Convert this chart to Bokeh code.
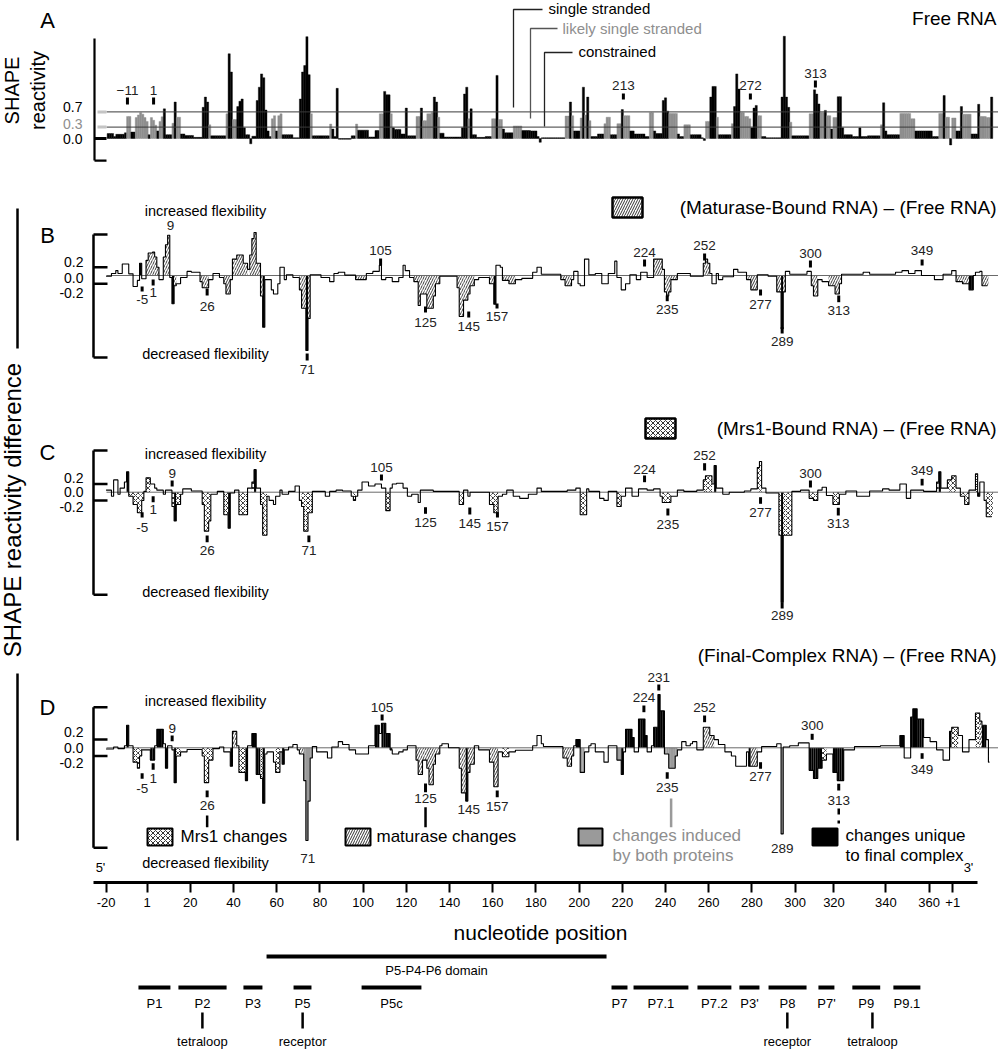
import numpy as np
from bokeh.plotting import figure
from bokeh.models import Range1d, FixedTicker
from bokeh.layouts import column
from bokeh.embed import file_html
from bokeh.resources import INLINE
from bokeh.core.properties import value

FONT = "Liberation Sans"

# ---------------------------------------------------------------- data
# Panel A: free RNA SHAPE reactivity, runs of (first nt, last nt, reactivity)
A_runs = [(-18,-16,0.13),(-15,-15,0.05),(-14,-11,0.11),(-10,-10,0.15),(-9,-8,0.58),(-7,-6,0.17),
 (-5,-5,0.55),(-4,-4,0.62),(-3,-3,0.68),(-2,-2,0.64),(-1,-1,0.55),(0,0,0.45),(1,1,0.1),(2,2,0.55),
 (3,3,0.48),(4,4,0.35),(5,5,0.2),(6,6,0.45),(7,7,0.57),(8,8,0.78),(9,11,0.1),(12,12,0.4),(13,13,0.96),
 (14,15,0.56),(16,17,0.12),(18,21,0.08),(22,25,0.03),(26,26,0.82),(27,27,1.09),(28,28,0.96),(29,29,0.36),
 (30,36,0.07),(37,37,0.65),(38,38,2.23),(39,39,1.75),(40,41,0.5),(42,42,0.84),(43,43,0.98),(44,44,1.04),
 (45,45,0.28),(46,47,0.1),(48,48,-0.14),(49,50,0.06),(51,51,1.0),(52,52,1.35),(53,53,1.7),(54,54,1.6),
 (55,55,0.75),(56,56,0.2),(57,57,0.05),(58,58,0.52),(59,59,0.6),(60,60,0.2),(61,61,0.6),(62,62,0.65),
 (63,67,0.1),(68,70,0.02),(71,71,1.04),(72,72,1.75),(73,73,1.92),(74,74,2.68),(75,75,1.68),(76,76,0.65),
 (77,84,0.07),(85,85,0.38),(86,86,0.25),(87,87,0.05),(88,88,1.32),(89,94,-0.02),(95,96,0.07),(97,97,0.38),
 (98,102,0.22),(103,105,0.04),(106,107,0.21),(108,109,0.65),(110,110,1.24),(111,112,1.15),(113,113,0.65),
 (114,114,0.28),(115,117,0.24),(118,119,0.12),(120,120,0.8),(121,124,0.07),(125,126,0.58),(127,127,0.8),
 (128,129,0.47),(130,131,0.65),(132,132,0.68),(133,133,1.09),(134,134,0.96),(135,135,0.56),(136,137,0.14),
 (138,145,0.04),(146,146,0.28),(147,147,1.17),(148,148,1.35),(149,149,0.52),(150,150,0.78),(151,152,0.1),
 (153,156,0.03),(157,159,0.05),(160,161,0.52),(162,162,1.66),(163,164,0.5),(165,165,0.25),(166,169,0.15),
 (170,173,0.33),(174,177,0.21),(178,180,0.2),(181,181,0.05),(182,182,-0.1),(183,193,0.02),(194,195,0.59),
 (196,196,0.96),(197,197,0.6),(198,200,0.2),(201,201,0.54),(202,202,1.35),(203,203,0.62),(204,204,1.09),
 (205,205,0.47),(206,208,0.05),(209,211,0.12),(212,212,0.39),(213,214,0.56),(215,217,0.1),(218,219,0.39),
 (220,220,0.76),(221,223,0.6),(224,225,0.2),(226,230,0.12),(231,232,0.05),(233,234,0.68),(235,235,0.2),
 (236,238,0.13),(239,239,1.0),(240,240,1.07),(241,241,0.72),(242,245,0.66),(246,246,0.12),(247,248,0.05),
 (249,251,0.36),(252,256,0.1),(257,257,0.02),(258,258,-0.05),(259,260,0.45),(261,261,1.09),(262,263,1.37),
 (264,264,0.56),(265,270,0.1),(271,271,0.39),(272,272,0.84),(273,273,1.7),(274,274,1.3),(275,276,0.68),
 (277,278,0.58),(279,279,0.52),(280,280,0.28),(281,281,0.8),(282,282,0.87),(283,284,0.6),(285,286,0.05),
 (287,293,0.02),(294,294,1.09),(295,295,2.69),(296,296,1.09),(297,297,0.82),(298,298,0.43),(299,306,0.07),
 (307,308,0.65),(309,309,1.28),(310,310,1.17),(311,311,0.91),(312,313,0.68),(314,314,0.74),(315,316,0.6),
 (317,317,0.25),(318,319,0.55),(320,321,1.1),(322,322,0.28),(323,326,0.1),(327,329,0.05),(330,330,0.28),
 (331,333,0.05),(334,339,0.07),(340,340,0.36),(341,341,0.94),(342,342,0.2),(343,348,0.1),(349,353,0.66),
 (354,355,0.52),(356,363,0.2),(364,366,0.05),(367,368,0.66),(369,369,1.13),(370,371,0.56),(372,372,-0.17),
 (373,374,0.54),(375,376,0.2),(377,377,0.84),(378,381,0.64),(382,384,0.12),(385,385,0.9),(386,388,0.58),
 (389,390,0.55),(391,391,1.09)]

# Panels B-D: reactivity difference runs (first nt, last nt, difference, class)
# class: w = no change, m = maturase, x = Mrs1, g = both proteins, k = unique / solid
B_runs = [(-19,-17,-0.02,'w'),(-16,-15,0.05,'w'),(-14,-14,0.12,'w'),(-13,-12,0.05,'w'),(-11,-9,0.28,'w'),
 (-8,-7,0.04,'w'),(-6,-5,-0.27,'w'),(-4,-4,-0.12,'w'),(-3,-3,0.3,'k'),(-2,-1,-0.08,'w'),(0,0,0.37,'m'),
 (1,2,0.55,'m'),(3,3,0.57,'m'),(4,4,0.45,'m'),(5,5,0.2,'m'),(6,7,-0.1,'w'),(8,8,0.45,'m'),(9,9,0.75,'m'),
 (10,10,0.98,'m'),(11,11,-0.05,'w'),(12,12,-0.69,'k'),(13,13,-0.25,'m'),(14,15,-0.2,'w'),(16,18,-0.05,'w'),
 (19,20,0.1,'w'),(21,24,0.08,'w'),(25,25,-0.15,'m'),(26,28,-0.3,'m'),(29,30,-0.1,'w'),(31,33,0.05,'w'),
 (34,35,-0.05,'w'),(36,36,-0.2,'m'),(37,38,-0.45,'m'),(39,39,-0.1,'w'),(40,41,0.4,'m'),(42,44,0.5,'m'),
 (45,46,0.3,'m'),(47,47,0.15,'w'),(48,48,0.5,'m'),(49,49,0.9,'m'),(50,50,1.05,'m'),(51,52,0.3,'m'),
 (53,53,-0.5,'m'),(54,54,-1.26,'k'),(55,57,-0.1,'w'),(58,58,-0.35,'w'),(59,60,-0.45,'w'),(61,61,-0.2,'w'),
 (62,63,0.2,'w'),(64,64,-0.1,'w'),(65,67,0.02,'w'),(68,70,-0.05,'w'),(71,71,-0.35,'m'),(72,73,-0.8,'m'),
 (74,74,-1.83,'k'),(75,75,-1.05,'m'),(76,80,0.02,'w'),(81,84,-0.05,'w'),(85,86,-0.15,'w'),(87,88,0.05,'w'),
 (89,91,0.08,'w'),(92,96,0.01,'w'),(97,101,-0.1,'m'),(102,104,0.05,'w'),(105,107,0.1,'w'),(108,108,0.25,'w'),
 (109,110,-0.1,'w'),(111,113,-0.05,'w'),(114,116,-0.15,'w'),(117,118,-0.05,'w'),(119,119,0.25,'w'),
 (120,121,0.12,'w'),(122,123,-0.05,'w'),(124,125,-0.15,'m'),(126,126,-0.73,'m'),(127,129,-0.45,'m'),
 (130,132,-0.8,'m'),(133,133,-0.5,'m'),(134,135,-0.2,'m'),(136,143,-0.02,'w'),(144,144,-0.3,'m'),
 (145,146,-1.0,'m'),(147,148,-0.6,'m'),(149,149,-0.45,'m'),(150,151,-0.25,'m'),(152,153,-0.1,'w'),
 (154,158,-0.05,'w'),(159,160,-0.2,'m'),(161,161,-0.7,'k'),(162,163,0.25,'w'),(164,164,0.2,'w'),
 (165,167,-0.12,'m'),(168,170,-0.2,'m'),(171,173,-0.1,'w'),(174,178,-0.07,'w'),(179,180,0.08,'w'),
 (181,182,0.2,'w'),(183,191,0.03,'w'),(192,193,-0.1,'m'),(194,196,-0.25,'m'),(197,197,-0.1,'w'),
 (198,199,0.1,'w'),(200,200,-0.2,'w'),(201,202,-0.25,'w'),(203,204,0.4,'w'),(205,207,0.02,'w'),
 (208,210,0.05,'w'),(211,213,-0.2,'w'),(214,216,0.05,'w'),(217,217,0.35,'w'),(218,219,-0.05,'w'),
 (220,221,-0.35,'w'),(222,223,-0.2,'w'),(224,226,0.02,'w'),(227,228,-0.1,'w'),(229,231,0.08,'w'),
 (232,234,-0.05,'w'),(235,238,0.4,'m'),(239,239,0.15,'w'),(240,240,-0.4,'m'),(241,241,-0.5,'m'),
 (242,242,-0.4,'m'),(243,245,-0.1,'m'),(246,251,0.05,'w'),(252,257,-0.02,'w'),(258,258,0.3,'m'),
 (259,259,0.4,'m'),(260,260,0.3,'m'),(261,261,0.05,'w'),(262,263,-0.2,'w'),(264,264,0.05,'w'),
 (265,266,-0.1,'w'),(267,271,-0.03,'w'),(272,273,0.15,'w'),(274,277,0.08,'w'),(278,279,-0.1,'m'),
 (280,282,-0.35,'m'),(283,287,0.02,'w'),(288,291,-0.02,'w'),(292,293,-0.4,'m'),(294,294,-1.3,'k'),
 (295,295,-0.4,'m'),(296,297,0.1,'w'),(298,305,0.03,'w'),(306,307,0.1,'w'),(308,308,-0.25,'m'),
 (309,310,-0.5,'m'),(311,312,-0.1,'w'),(313,315,-0.15,'w'),(316,318,-0.25,'m'),(319,320,-0.45,'m'),
 (321,321,-0.2,'m'),(322,331,0.03,'w'),(332,334,0.08,'w'),(335,346,0.03,'w'),(347,349,0.08,'w'),
 (350,352,0.12,'w'),(353,355,0.05,'w'),(356,358,0.12,'w'),(359,364,0.0,'w'),(365,368,-0.1,'w'),
 (369,372,0.03,'w'),(373,374,0.12,'w'),(375,377,-0.15,'m'),(378,380,-0.2,'m'),(381,382,-0.35,'k'),
 (383,383,0.0,'w'),(384,385,0.08,'w'),(386,386,0.1,'w'),(387,389,-0.25,'m')]

C_runs = [(-19,-17,0.05,'w'),(-16,-16,-0.1,'w'),(-15,-14,0.3,'w'),(-13,-13,-0.05,'w'),(-12,-11,0.1,'w'),
 (-10,-10,0.25,'w'),(-9,-9,0.5,'k'),(-8,-7,-0.1,'x'),(-6,-5,-0.3,'x'),(-4,-3,-0.5,'x'),(-2,-2,-0.2,'x'),
 (-1,-1,0.02,'w'),(0,1,0.35,'x'),(2,3,0.2,'w'),(4,4,0.1,'w'),(5,7,0.05,'w'),(8,8,-0.05,'w'),(9,11,0.05,'w'),
 (12,12,-0.35,'x'),(13,13,-0.7,'k'),(14,15,-0.3,'x'),(16,16,-0.05,'w'),(17,20,0.08,'w'),(21,25,0.03,'w'),
 (26,26,-0.3,'x'),(27,28,-0.95,'x'),(29,29,-0.7,'x'),(30,32,-0.05,'w'),(33,35,0.02,'w'),(36,37,-0.55,'x'),
 (38,38,-0.88,'k'),(39,40,-0.02,'w'),(41,42,0.05,'w'),(43,46,-0.55,'x'),(47,48,0.1,'w'),(49,49,0.25,'x'),
 (50,50,0.55,'k'),(51,52,0.1,'w'),(53,53,-0.3,'x'),(54,55,-1.05,'x'),(56,56,-0.1,'w'),(57,58,-0.2,'w'),
 (59,59,-0.3,'w'),(60,61,-0.1,'w'),(62,62,0.05,'w'),(63,65,-0.05,'w'),(66,68,0.02,'w'),(69,70,0.15,'w'),
 (71,71,-0.2,'w'),(72,72,-0.35,'x'),(73,74,-0.95,'x'),(75,76,-0.5,'x'),(77,82,0.02,'w'),(83,84,-0.1,'w'),
 (85,87,0.02,'w'),(88,90,0.05,'w'),(91,94,0.03,'w'),(95,95,-0.1,'w'),(96,96,-0.2,'x'),(97,97,-0.1,'w'),
 (98,99,0.05,'w'),(100,102,0.25,'w'),(103,105,0.15,'w'),(106,108,0.2,'w'),(109,110,0.1,'w'),
 (111,112,-0.45,'x'),(113,113,0.1,'w'),(114,115,0.2,'w'),(116,118,0.22,'w'),(119,120,0.1,'w'),
 (121,122,-0.1,'w'),(123,125,-0.05,'w'),(126,126,-0.25,'w'),(127,132,0.05,'w'),(133,144,0.02,'w'),
 (145,146,-0.3,'x'),(147,148,0.05,'w'),(149,149,-0.1,'w'),(150,158,0.0,'w'),(159,160,-0.3,'x'),
 (161,162,-0.5,'x'),(163,164,-0.1,'w'),(165,166,-0.05,'w'),(167,169,0.05,'w'),(170,172,-0.1,'w'),
 (173,176,-0.15,'w'),(177,180,-0.05,'w'),(181,182,0.1,'w'),(183,194,0.02,'w'),(195,198,0.05,'w'),
 (199,200,0.1,'w'),(201,203,-0.55,'x'),(204,204,0.08,'w'),(205,209,0.02,'w'),(210,211,-0.15,'w'),
 (212,213,-0.2,'w'),(214,217,0.02,'w'),(218,219,-0.35,'x'),(220,221,-0.1,'w'),(222,224,0.1,'w'),
 (225,227,-0.1,'w'),(228,231,0.08,'w'),(232,234,0.05,'w'),(235,237,0.08,'w'),(238,238,-0.1,'w'),
 (239,242,-0.25,'x'),(243,245,-0.1,'w'),(246,248,0.05,'w'),(249,254,0.02,'w'),(255,257,0.05,'w'),
 (258,258,0.3,'x'),(259,261,0.4,'x'),(262,262,0.2,'w'),(263,263,0.65,'k'),(264,266,0.1,'w'),
 (267,269,-0.05,'w'),(270,276,0.0,'w'),(277,279,0.03,'w'),(280,282,0.08,'w'),(283,283,0.6,'x'),
 (284,284,0.75,'x'),(285,286,0.1,'w'),(287,292,-0.02,'w'),(293,293,-1.05,'x'),(294,294,-2.68,'k'),
 (295,298,-1.05,'x'),(299,302,0.02,'w'),(303,306,0.05,'w'),(307,308,-0.15,'x'),(309,310,-0.2,'x'),
 (311,312,0.05,'w'),(313,314,0.12,'w'),(315,317,-0.08,'w'),(318,320,-0.3,'x'),(321,323,-0.05,'w'),
 (324,328,0.03,'w'),(329,334,-0.1,'w'),(335,340,0.03,'w'),(341,343,0.08,'w'),(344,348,0.05,'w'),
 (349,351,0.2,'w'),(352,353,-0.15,'w'),(354,359,0.05,'w'),(360,365,0.02,'w'),(366,366,0.25,'x'),
 (367,367,0.5,'k'),(368,370,0.1,'w'),(371,372,0.3,'x'),(373,374,0.4,'x'),(375,376,0.1,'w'),
 (377,378,-0.1,'x'),(379,380,-0.3,'x'),(381,383,0.05,'w'),(384,384,0.45,'x'),(385,385,-0.1,'k'),
 (386,387,0.25,'w'),(388,388,-0.2,'w'),(389,391,-0.6,'x')]

D_runs = [(-19,-16,-0.03,'w'),(-15,-14,0.02,'w'),(-13,-11,-0.02,'w'),(-10,-10,0.05,'w'),(-9,-9,0.55,'k'),
 (-8,-7,0.05,'w'),(-6,-5,-0.35,'x'),(-4,-4,-0.5,'x'),(-3,-3,-0.2,'x'),(-2,1,-0.05,'w'),(2,3,-0.3,'k'),
 (4,4,0.05,'w'),(5,7,0.45,'k'),(8,8,0.1,'w'),(9,9,-0.5,'k'),(10,11,0.05,'w'),(12,12,-0.05,'w'),
 (13,13,-0.85,'k'),(14,15,-0.2,'x'),(16,18,-0.1,'w'),(19,25,-0.04,'w'),(26,26,-0.2,'x'),(27,28,-0.85,'x'),
 (29,30,-0.3,'x'),(31,33,-0.02,'w'),(34,35,0.02,'w'),(36,38,-0.1,'w'),(39,39,-0.45,'k'),(40,41,0.4,'m'),
 (42,42,0.05,'w'),(43,45,-0.6,'x'),(46,46,-0.8,'k'),(47,48,0.05,'w'),(49,50,0.35,'k'),(51,52,-0.65,'k'),
 (53,53,-0.75,'x'),(54,54,-1.35,'k'),(55,55,-0.15,'w'),(56,58,-0.1,'w'),(59,59,-0.35,'w'),(60,61,-0.6,'x'),
 (62,62,-0.1,'w'),(63,63,-0.4,'k'),(64,65,-0.05,'w'),(66,67,0.02,'w'),(68,69,0.08,'w'),(70,70,-0.05,'w'),
 (71,72,-0.15,'m'),(73,73,-0.8,'g'),(74,74,-2.26,'g'),(75,75,-1.3,'g'),(76,76,-0.25,'g'),(77,78,0.03,'w'),
 (79,83,-0.1,'w'),(84,85,-0.25,'w'),(86,88,0.02,'w'),(89,90,0.15,'w'),(91,93,0.08,'w'),(94,96,-0.05,'w'),
 (97,102,-0.15,'w'),(103,105,0.05,'w'),(106,107,0.55,'k'),(108,108,0.35,'w'),(109,110,0.6,'k'),
 (111,112,0.35,'k'),(113,113,-0.05,'k'),(114,116,-0.15,'w'),(117,118,-0.1,'w'),(119,120,-0.05,'w'),
 (121,124,0.05,'w'),(125,125,-0.3,'m'),(126,127,-0.65,'m'),(128,129,-0.3,'m'),(130,130,-0.5,'m'),
 (131,132,-0.9,'m'),(133,133,-0.4,'m'),(134,135,-0.15,'m'),(136,136,0.05,'w'),(137,139,0.1,'w'),
 (140,144,0.0,'w'),(145,145,-0.5,'m'),(146,147,-1.1,'m'),(148,148,-1.3,'k'),(149,149,-0.6,'m'),
 (150,151,-0.4,'m'),(152,153,0.05,'w'),(154,158,-0.05,'w'),(159,160,-0.35,'m'),(161,162,-0.95,'m'),
 (163,164,-0.1,'w'),(165,167,-0.22,'x'),(168,170,-0.1,'w'),(171,178,-0.06,'w'),(179,180,0.05,'w'),
 (181,182,0.3,'w'),(183,183,0.1,'w'),(184,192,0.03,'w'),(193,194,-0.25,'m'),(195,196,-0.45,'m'),
 (197,197,-0.2,'m'),(198,198,0.05,'w'),(199,200,0.2,'k'),(201,202,-0.6,'g'),(203,204,-0.1,'w'),
 (205,205,0.05,'w'),(206,207,0.1,'w'),(208,211,-0.1,'w'),(212,213,-0.35,'w'),(214,217,0.05,'w'),
 (218,219,-0.3,'g'),(220,220,-0.65,'k'),(221,221,-0.1,'w'),(222,224,0.45,'k'),(225,225,0.25,'k'),
 (226,227,-0.1,'w'),(228,230,0.7,'k'),(231,231,0.3,'k'),(232,233,-0.1,'w'),(234,234,0.05,'w'),
 (235,236,0.5,'k'),(237,237,1.3,'k'),(238,239,0.9,'k'),(240,241,-0.15,'g'),(242,244,-0.5,'g'),
 (245,245,-0.2,'g'),(246,247,-0.05,'w'),(248,249,0.15,'w'),(250,251,0.05,'w'),(252,252,0.1,'w'),
 (253,254,0.15,'w'),(255,257,-0.05,'w'),(258,260,0.5,'m'),(261,262,0.3,'m'),(263,264,0.2,'w'),
 (265,267,0.08,'w'),(268,270,-0.1,'w'),(271,272,-0.2,'w'),(273,277,-0.45,'w'),(278,278,-0.1,'w'),
 (279,279,-0.45,'k'),(280,282,-0.45,'m'),(283,284,-0.1,'w'),(285,291,0.03,'w'),(292,293,0.1,'w'),
 (294,294,-2.1,'g'),(295,297,0.02,'w'),(298,301,0.05,'w'),(302,306,0.12,'w'),(307,308,-0.55,'k'),
 (309,310,-0.75,'k'),(311,312,-0.5,'k'),(313,314,-0.3,'x'),(315,317,-0.15,'w'),(318,319,-0.6,'k'),
 (320,322,-0.8,'k'),(323,327,-0.05,'w'),(328,339,0.03,'w'),(340,348,0.05,'w'),(349,350,0.3,'k'),
 (351,353,-0.25,'w'),(354,354,0.75,'k'),(355,356,0.95,'k'),(357,359,0.7,'k'),(360,362,0.25,'w'),
 (363,365,0.15,'w'),(366,368,-0.05,'w'),(369,371,-0.3,'w'),(372,372,0.4,'k'),(373,375,0.5,'x'),
 (376,377,0.3,'w'),(378,380,-0.1,'w'),(381,383,0.2,'w'),(384,385,0.85,'x'),(386,386,0.65,'m'),
 (387,388,0.55,'k'),(389,389,0.2,'w'),(390,390,-0.35,'w')]

# x-axis ticks (positions on the nucleotide scale, printed labels)
TICK_POS = [-19, 0, 20, 40, 60, 80, 100, 120, 140, 160, 180, 200, 220, 240, 260, 280, 300, 318, 342, 362, 373]
TICK_LABELS = ["-20", "1", "20", "40", "60", "80", "100", "120", "140", "160", "180", "200", "220",
               "240", "260", "280", "300", "320", "340", "360", "+1"]

# secondary-structure elements (name, first nt, last nt)
DOMAIN_NAMES = ["P1", "P2", "P3", "P5", "P5c", "P7", "P7.1", "P7.2", "P3'", "P8", "P7'", "P9", "P9.1"]
DOMAIN_START = [-4.0, 14.5, 44.6, 67.8, 99.3, 215.0, 225.2, 254.8, 274.2, 287.7, 310.8, 326.5, 345.5]
DOMAIN_END = [10.8, 36.8, 53.4, 76.1, 127.0, 222.4, 250.6, 270.5, 283.5, 305.3, 318.2, 339.4, 358.0]
P4P6_SPAN = (55.3, 212.7)
FEATURE_NAMES = ["tetraloop", "receptor", "receptor", "tetraloop"]
FEATURE_POS = [25.6, 72.0, 296.4, 335.8]

# annotated nucleotides: (label, x in nt, text y, tick y0, tick y1) -- y in layout px
A_LABELS = [("−11", -9.1, 82, 89, 96), ("1", 3.0, 82, 89, 96), ("213", 220.5, 77, 85, 91),
            ("272", 279.3, 77, 85, 91), ("313", 309.4, 65, 72, 79)]
B_LABELS = [("-5", -2.3, 291, 278, 283), ("1", 2.8, 283.7, 271, 277), ("9", 10.8, 217, None, None),
            ("26", 27.8, 298, 280, 287), ("71", 74.1, 361, 345, 352), ("105", 108.1, 242, 250, 257),
            ("125", 128.9, 313.7, 298, 304), ("145", 148.9, 317.7, 303, 309), ("157", 162.0, 308, 295, 300),
            ("224", 230.3, 243.7, 251, 258), ("235", 240.8, 301, 287, 292.7), ("252", 258.1, 237, 245, 252),
            ("277", 284.0, 296, 281, 287), ("289", 294.0, 333, 318.7, 325), ("300", 307.1, 244.7, 252, 259),
            ("313", 320.2, 302, 287, 293.7), ("349", 358.8, 242, 251, 257)]
C_LABELS = [("-5", -2.3, 519, 503.7, 509), ("1", 2.8, 501, 487.7, 493.7), ("9", 11.6, 464.7, 472, 478),
            ("26", 27.8, 542, 527, 533.7), ("71", 74.9, 542, 527, 533.7), ("105", 108.5, 458.7, 466, 472),
            ("125", 128.9, 514.3, 498.7, 505.3), ("145", 149.4, 515.3, 499, 506),
            ("157", 162.2, 518, 503.7, 509), ("224", 230.3, 461.3, 467, 473.7),
            ("235", 241.1, 516, 500, 507), ("252", 258.1, 447, 454.7, 462), ("277", 284.0, 503.7, 488.7, 495.3),
            ("289", 294.0, 607, 593.7, 600), ("300", 307.1, 464.7, 472, 479), ("313", 320.0, 515.3, 499.3, 507),
            ("349", 358.8, 462, 470.3, 477)]
D_LABELS = [("-5", -2.3, 780.3, 764.7, 770.3), ("1", 2.8, 770.3, 754.7, 761.3), ("9", 11.6, 720.3, 727, 732.7),
            ("26", 27.8, 797, 782, 788.7), ("71", 74.4, 850.3, None, None), ("105", 108.8, 698.7, 706, 712),
            ("125", 128.9, 790.3, 775, 783.7), ("145", 148.9, 801.3, None, None),
            ("157", 162.1, 798, 782, 788.7), ("224", 230.0, 689.3, 697, 703.7), ("231", 236.9, 668.7, 676, 682),
            ("252", 258.1, 699.3, 707, 713.7), ("235", 240.8, 778.7, 763.7, 770.3),
            ("277", 284.0, 768, 753.7, 760.3), ("289", 294.0, 840.3, None, None),
            ("300", 307.9, 717, 725.3, 731.3), ("313", 320.2, 792, 775.3, 782), ("349", 358.8, 761.3, 744.7, 750.3)]
D_LEADERS = [(27.8, 807, 818.7, "black", "solid"), (128.9, 798.7, 818.7, "black", "solid"),
             (242.6, 790, 818.7, "#9a9a9a", "solid"), (320.2, 800, 815, "black", "dashed")]


# ---------------------------------------------------------------- helpers
def nt(px):
    """page x (px) -> nucleotide coordinate of the shared x scale"""
    return 20 + (px - 189.8) / 2.16


def expand(runs):
    d = {}
    for r in runs:
        for n in range(r[0], r[1] + 1):
            d[n] = r[2:]
    lo, hi = min(d), max(d)
    pos = np.arange(lo, hi + 1)
    vals = np.array([d[n][0] if n in d else 0.0 for n in pos])
    cats = [d[n][1] if (n in d and len(d[n]) > 1) else 'w' for n in pos]
    return pos.astype(float), vals, cats


def txt(fig, x, y, s, size, color="black", align="left", font=FONT, angle=0.0, baseline="middle"):
    fig.text(x=[x], y=[y], text=[s], text_font=value(font), text_font_size=f"{size}px",
             text_color=color, text_align=align, text_baseline=baseline, angle=angle)


# ---------------------------------------------------------------- main figure
W = 998
FRAME_H = 882
X0, X1 = nt(0), nt(998)
xr = Range1d(X0, X1)

# layout y units: page px minus 8 (so frame top is -8, frame bottom is 874)
p = figure(width=W, height=FRAME_H + 36, x_range=xr, y_range=Range1d(FRAME_H - 8, -8),
           output_backend="svg", toolbar_location=None, y_axis_location=None,
           min_border_left=0, min_border_right=0, min_border_top=0, min_border_bottom=36)
p.grid.visible = False
p.outline_line_color = None

# panel baselines (layout px) and px per unit
PANELS = {"A": (130.0, 38.0), "B": (267.0, 41.0), "C": (483.7, 41.0), "D": (739.3, 41.0)}
p.extra_y_ranges = {k: Range1d((b - (FRAME_H - 8)) / s, (b + 8) / s) for k, (b, s) in PANELS.items()}

GRAY = "#8e8e8e"

# ---------- panel A
pa, va, _ = expand(A_runs)
colA = ["#8e8e8e" if 0.3 <= v < 0.7 else "black" for v in va]
p.vbar(x=pa, width=1.0, bottom=0, top=va, fill_color=colA, line_color=colA, line_width=0.4,
       y_range_name="A")
p.segment(x0=[nt(106)] * 2, x1=[X1] * 2, y0=[0.7, 0.3], y1=[0.7, 0.3], line_color="#3a3a3a",
          line_width=1, y_range_name="A")
axA = nt(94)
p.segment(x0=[axA], x1=[axA], y0=[2.63], y1=[-0.58], line_color="black", line_width=2.2, y_range_name="A")
p.segment(x0=[axA, axA, nt(97), nt(97)], x1=[nt(106)] * 4, y0=[-0.58, 0.0, 0.7, 0.3],
          y1=[-0.58, 0.0, 0.7, 0.3], line_color=["black", "black", "#c4c4c4", "#c4c4c4"],
          line_width=[2.2, 3, 3, 3], y_range_name="A")
p.text(x=[nt(82)] * 3, y=[98, 115, 130], text=["0.7", "0.3", "0.0"], text_align="right",
       text_baseline="middle", text_font=value(FONT), text_font_size="14px",
       text_color=["black", GRAY, "black"])
txt(p, nt(11), 82, "SHAPE", 20, align="center", angle=np.pi / 2)
txt(p, nt(37), 82, "reactivity", 20, align="center", angle=np.pi / 2)
txt(p, nt(47), 12, "A", 22, align="center")
txt(p, nt(996), 10, "Free RNA", 19, align="right")
# class legend of panel A
p.multi_line(xs=[[nt(513), nt(513), nt(542)], [nt(530), nt(530), nt(557)], [nt(544), nt(544), nt(572)]],
             ys=[[99, 1, 1], [110, 20, 20], [118, 44, 44]],
             line_color=["#222222", "#555555", "#222222"], line_width=1.3)
txt(p, nt(548), 0, "single stranded", 15)
txt(p, nt(562), 20, "likely single stranded", 15, color=GRAY)
txt(p, nt(578), 43, "constrained", 15)


def number_labels(labels):
    t = [l[0] for l in labels]
    x = [l[1] for l in labels]
    y = [l[2] for l in labels]
    p.text(x=x, y=y, text=t, text_align="center", text_baseline="middle", text_font=value(FONT),
           text_font_size="13.5px", text_color="#222222")
    tk = [l for l in labels if l[3] is not None]
    p.segment(x0=[l[1] for l in tk], x1=[l[1] for l in tk], y0=[l[3] for l in tk], y1=[l[4] for l in tk],
              line_color="black", line_width=3)


number_labels(A_LABELS)

# ---------- difference panels
FILL = {"m": "white", "x": "white", "g": "#9a9a9a", "k": "black"}
HATCH = {"m": "/", "x": "x", "g": " ", "k": " "}


def diff_panel(runs, name, letter, top, bot, lab_y, flex_y):
    base = PANELS[name][0]
    pos, vals, cats = expand(runs)
    idx = [i for i, c in enumerate(cats) if c != 'w']
    p.quad(left=pos[idx] - 0.5, right=pos[idx] + 0.5, bottom=np.minimum(vals[idx], 0),
           top=np.maximum(vals[idx], 0), fill_color=[FILL[cats[i]] for i in idx],
           hatch_pattern=[HATCH[cats[i]] for i in idx], hatch_color="black", hatch_scale=5,
           hatch_weight=0.8, line_color=None, y_range_name=name)
    p.segment(x0=[nt(106)], x1=[X1], y0=[0], y1=[0], line_color="#6a6a6a", line_width=1, y_range_name=name)
    p.step(x=pos, y=vals, mode="center", line_color="black", line_width=1.1, y_range_name=name)
    bx = nt(93)
    p.segment(x0=[bx], x1=[bx], y0=[top], y1=[bot], line_color="black", line_width=2.5, y_range_name=name)
    p.segment(x0=[bx] * 4, x1=[nt(107)] * 4, y0=[top, bot, 0.2, -0.2], y1=[top, bot, 0.2, -0.2],
              line_color="black", line_width=2.5, y_range_name=name)
    p.text(x=[nt(83)] * 3, y=lab_y, text=["0.2", "0.0", "-0.2"], text_align="right", text_baseline="middle",
           text_font=value(FONT), text_font_size="14px", text_color="black")
    txt(p, nt(47), base - 40, letter, 22, align="center")
    txt(p, nt(205), flex_y[0], "increased flexibility", 14.5, align="center")
    txt(p, nt(205), flex_y[1], "decreased flexibility", 14.5, align="center")


diff_panel(B_runs, "B", "B", 1.0, -2.0, [253, 269, 284], (202, 345))
diff_panel(C_runs, "C", "C", 1.02, -2.5, [469.3, 483.7, 498], (445, 583))
diff_panel(D_runs, "D", "D", 0.99, -2.44, [723.7, 739.3, 754.7], (692, 854))
number_labels(B_LABELS)
number_labels(C_LABELS)
number_labels(D_LABELS)

# titles and legend boxes
p.quad(left=[nt(612)], right=[nt(642)], top=[189], bottom=[209], fill_color="white", hatch_pattern="/",
       hatch_color="black", hatch_scale=5, hatch_weight=0.8, line_color="black", line_width=2.5)
txt(p, nt(996), 199, "(Maturase-Bound RNA) – (Free RNA)", 19, align="right")
p.quad(left=[nt(645)], right=[nt(675)], top=[410], bottom=[430], fill_color="white", hatch_pattern="x",
       hatch_color="black", hatch_scale=5, hatch_weight=0.8, line_color="black", line_width=2.5)
txt(p, nt(996), 420, "(Mrs1-Bound RNA) – (Free RNA)", 19, align="right")
txt(p, nt(996), 647, "(Final-Complex RNA) – (Free RNA)", 19, align="right")

# panel D legend
p.quad(left=[nt(147), nt(345), nt(578), nt(812)], right=[nt(172), nt(370), nt(602), nt(837)],
       top=[820] * 4, bottom=[837] * 4, fill_color=["white", "white", "#9a9a9a", "black"],
       hatch_pattern=["x", "/", " ", " "], hatch_color="black", hatch_scale=5, hatch_weight=0.8,
       line_color="black", line_width=2)
txt(p, nt(180), 828, "Mrs1 changes", 17)
txt(p, nt(376), 828, "maturase changes", 17)
txt(p, nt(612), 827, "changes induced", 17, color=GRAY)
txt(p, nt(612), 847, "by both proteins", 17, color=GRAY)
txt(p, nt(845), 827, "changes unique", 17)
txt(p, nt(845), 847, "to final complex", 17)
for x, y0, y1, c, dash in D_LEADERS:
    p.segment(x0=[x], x1=[x], y0=[y0], y1=[y1], line_color=c, line_width=2.5, line_dash=dash)

# shared y title
txt(p, nt(12), 501.5, "SHAPE reactivity difference", 24, align="center", angle=np.pi / 2)
p.segment(x0=[nt(17)] * 2, x1=[nt(17)] * 2, y0=[200, 665], y1=[340, 832], line_color="black", line_width=2.5)

txt(p, nt(100), 859, "5'", 13, align="center")
txt(p, nt(968), 859, "3'", 13, align="center")

# x axis
xa = p.xaxis[0]
xa.ticker = FixedTicker(ticks=TICK_POS)
xa.major_label_overrides = {t: s for t, s in zip(TICK_POS, TICK_LABELS)}
xa.bounds = (nt(93), nt(977))
xa.axis_line_width = 3
xa.major_tick_out = 10
xa.major_tick_in = 0
xa.major_tick_line_width = 2
xa.minor_tick_line_color = None
xa.major_label_standoff = 5
xa.major_label_text_font = FONT
xa.major_label_text_font_size = "13px"
xa.major_label_text_color = "black"

# ---------------------------------------------------------------- domain figure
q = figure(width=W, height=132, x_range=xr, y_range=Range1d(132, 0), output_backend="svg",
           toolbar_location=None, x_axis_location=None, y_axis_location=None,
           min_border_left=0, min_border_right=0, min_border_top=0, min_border_bottom=0)
q.grid.visible = False
q.outline_line_color = None
txt(q, nt(540), 14, "nucleotide position", 21, align="center")
q.segment(x0=[P4P6_SPAN[0]], x1=[P4P6_SPAN[1]], y0=[38], y1=[38], line_color="black", line_width=4)
txt(q, (P4P6_SPAN[0] + P4P6_SPAN[1]) / 2, 52, "P5-P4-P6 domain", 13, align="center")
q.segment(x0=DOMAIN_START, x1=DOMAIN_END, y0=[69] * len(DOMAIN_START), y1=[69] * len(DOMAIN_START),
          line_color="black", line_width=4)
q.text(x=[(a + b) / 2 for a, b in zip(DOMAIN_START, DOMAIN_END)], y=[85] * len(DOMAIN_NAMES),
       text=DOMAIN_NAMES, text_align="center", text_baseline="middle", text_font=value(FONT),
       text_font_size="13px", text_color="black")
q.segment(x0=FEATURE_POS, x1=FEATURE_POS, y0=[94] * 4, y1=[110] * 4, line_color="black", line_width=2.5)
q.text(x=FEATURE_POS, y=[123] * 4, text=FEATURE_NAMES, text_align="center", text_baseline="middle",
       text_font=value(FONT), text_font_size="13px", text_color="black")

layout = column(p, q)
open("out.html", "w").write(file_html(layout, INLINE))
